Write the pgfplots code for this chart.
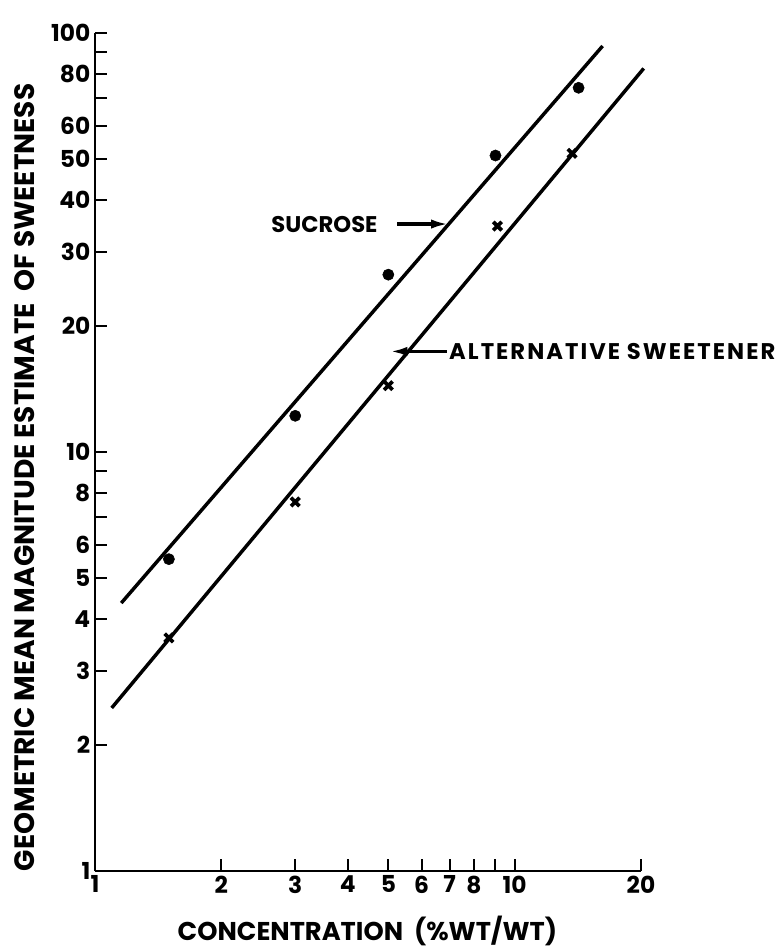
\documentclass[border=0pt]{standalone}
\usepackage{fontspec}
\setmainfont{Poppins}
\usepackage{pgfplots}
\pgfplotsset{compat=1.18}
\usetikzlibrary{arrows.meta}
\begin{document}
\begin{tikzpicture}
\begin{loglogaxis}[
  name=ax,
  scale only axis,
  width=409.5pt, height=628.5pt,
  xmin=1, xmax=20, ymin=1, ymax=100,
  axis lines=left,
  axis line style={-, line width=1.5pt},
  tick align=inside,
  major tick length=9pt,
  tick style={line width=1.5pt, black},
  xtick={1,2,3,4,5,6,7,8,9,10,20},
  xticklabels={1,2,3,4,5,6,7,8,,10,20},
  ytick={1,2,3,4,5,6,7,8,9,10,20,30,40,50,60,70,80,90,100},
  yticklabels={1,2,3,4,5,6,,8,,10,20,30,40,50,60,,80,,100},
  minor xtick={}, minor ytick={},
  ticklabel style={font=\fontsize{17.5}{17.5}\selectfont\bfseries},
  xlabel={CONCENTRATION\ \ (\%WT/WT)},
  ylabel={GEOMETRIC MEAN MAGNITUDE ESTIMATE\ \ OF SWEETNESS},
  xlabel style={at={(axis description cs:0.499,-0.0830)}, anchor=base, font=\fontsize{19.3}{19.3}\selectfont\bfseries, inner sep=0pt},
  ylabel style={at={(axis description cs:-0.1099,0.4696)}, anchor=base, font=\fontsize{21}{21}\selectfont\bfseries, inner sep=0pt},
  clip=false,
]
\addplot[black, line width=2.6pt] coordinates {(1.155,4.36) (16.2,93.1)};
\addplot[black, line width=2.6pt] coordinates {(1.096,2.45) (20.3,82.3)};
\addplot[only marks, mark=*, mark size=4.2pt, black] coordinates {(1.5,5.55) (3,12.2) (5,26.5) (9,51) (14.2,74)};
\addplot[only marks, mark=x, mark size=4.5pt, black, line width=2.8pt] coordinates {(1.5,3.6) (3,7.6) (5,14.4) (9.1,34.6) (13.7,51.6)};
\node[anchor=base east, inner sep=0pt, font=\fontsize{17}{17}\selectfont\bfseries] at (axis cs:4.717,33.37) {SUCROSE};
\draw[-{Latex[length=13pt,width=7pt]}, line width=2.4pt] (axis cs:5.25,35.0) -- (axis cs:6.95,35.0);
\node[anchor=base west, inner sep=0pt, font=\fontsize{17}{17}\selectfont\bfseries\addfontfeature{LetterSpace=9}] at (axis cs:6.97,16.64) {ALTERNATIVE SWEETENER};
\draw[-{Latex[length=13pt,width=7pt]}, line width=2.4pt] (axis cs:6.88,17.38) -- (axis cs:5.05,17.38);
\end{loglogaxis}
\pgfresetboundingbox
\path[use as bounding box] ([shift={(-71.25pt,-57.75pt)}]ax.south west) rectangle ([shift={(512.25pt,653.25pt)}]ax.south west);
\end{tikzpicture}
\end{document}
